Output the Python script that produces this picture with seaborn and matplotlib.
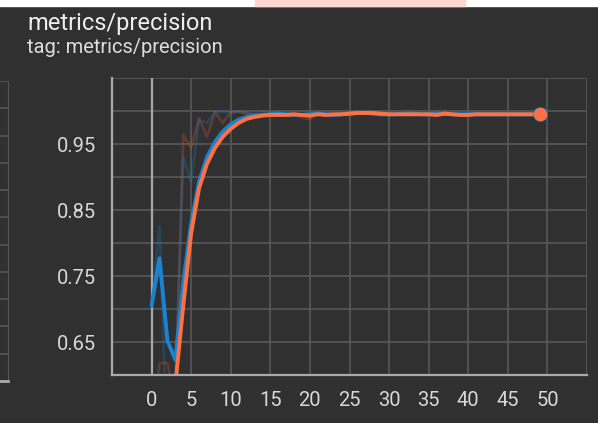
import matplotlib.pyplot as plt
from matplotlib.patches import Rectangle
import pandas as pd
import seaborn as sns

# values
steps = list(range(50))

blue_raw = [0.705, 0.825, 0.48, 0.58, 0.93, 0.892, 0.986, 0.982, 0.998, 0.999,
            0.998, 0.999, 0.997, 0.996, 0.998, 0.997, 0.998, 0.995, 0.993, 0.995,
            0.997, 0.997, 0.994, 0.993, 0.996, 0.998, 0.998, 0.997, 0.995, 0.994,
            0.995, 0.996, 0.997, 0.996, 0.994, 0.995, 0.997, 0.996, 0.995, 0.995,
            0.996, 0.995, 0.994, 0.995, 0.996, 0.995, 0.995, 0.994, 0.995, 0.996]
blue_smooth = [0.705, 0.777, 0.652, 0.623, 0.740, 0.830, 0.893, 0.930, 0.953, 0.969,
               0.980, 0.987, 0.991, 0.993, 0.994, 0.995, 0.996, 0.995, 0.994, 0.994,
               0.995, 0.996, 0.995, 0.994, 0.995, 0.996, 0.997, 0.997, 0.996, 0.995,
               0.995, 0.995, 0.996, 0.996, 0.995, 0.995, 0.996, 0.996, 0.995, 0.995,
               0.995, 0.995, 0.995, 0.995, 0.995, 0.995, 0.995, 0.995, 0.995, 0.995]
orange_raw = [0.50, 0.618, 0.618, 0.56, 0.964, 0.944, 0.989, 0.961, 0.998, 0.982,
              0.998, 0.999, 0.996, 0.995, 0.994, 0.996, 0.994, 0.995, 0.996, 0.990,
              0.988, 0.997, 0.994, 0.996, 0.996, 0.997, 0.998, 0.998, 0.997, 0.995,
              0.994, 0.996, 0.995, 0.994, 0.996, 0.995, 0.992, 0.998, 0.995, 0.993,
              0.994, 0.996, 0.995, 0.995, 0.996, 0.995, 0.994, 0.995, 0.996, 0.995]
orange_smooth = [0.52, 0.55, 0.57, 0.585, 0.705, 0.815, 0.883, 0.920, 0.944, 0.961,
                 0.973, 0.982, 0.988, 0.991, 0.993, 0.994, 0.994, 0.994, 0.995, 0.994,
                 0.993, 0.995, 0.994, 0.995, 0.995, 0.996, 0.997, 0.997, 0.997, 0.996,
                 0.995, 0.995, 0.995, 0.995, 0.995, 0.995, 0.994, 0.996, 0.995, 0.994,
                 0.994, 0.995, 0.995, 0.995, 0.995, 0.995, 0.995, 0.995, 0.995, 0.995]

x_ticks = list(range(-5, 60, 5))
x_labels = [''] + [str(t) for t in range(0, 55, 5)] + ['']
y_ticks = [0.6, 0.65, 0.7, 0.75, 0.8, 0.85, 0.9, 0.95, 1.0, 1.05]
y_labels = ['', '0.65', '', '0.75', '', '0.85', '', '0.95', '', '']

df = pd.DataFrame({'step': steps, 'blue_raw': blue_raw, 'blue_smooth': blue_smooth,
                   'orange_raw': orange_raw, 'orange_smooth': orange_smooth})

bg = '#303030'
blue = '#1a83cf'
orange = '#ff7043'
grid = '#555555'
axis_c = '#aaaaaa'
txt = '#d8d8d8'

sns.set_style('dark')
plt.rcParams['font.family'] = ['Roboto', 'DejaVu Sans']

fig = plt.figure(figsize=(5.98, 4.23), dpi=100, facecolor=bg)

# strip of the page above the card
fig.add_artist(Rectangle((0, 1 - 6 / 423), 1, 6 / 423, transform=fig.transFigure,
                         color='white', zorder=0))
fig.add_artist(Rectangle((255 / 598, 1 - 6 / 423), 210 / 598, 6 / 423,
                         transform=fig.transFigure, color='#ffd6d0', zorder=0))

fig.text(27 / 598, 1 - 30 / 423, 'metrics/precision', color='#eeeeee',
         fontsize=17, va='baseline')
fig.text(27 / 598, 1 - 53 / 423, 'tag: metrics/precision', color='#dddddd',
         fontsize=14.5, va='baseline')

# edge of the neighbouring chart card on the left
ax0 = fig.add_axes([-92 / 598, 42 / 423, 100 / 598, 300 / 423])
ax0.set_facecolor(bg)
ax0.set_xlim(0, 1)
ax0.set_ylim(0, 11)
ax0.set_yticks(range(12))
ax0.set_xticks([])
ax0.tick_params(length=0, labelleft=False)
ax0.grid(axis='y', color=grid, lw=1.2)
for s in ['top', 'left']:
    ax0.spines[s].set_visible(False)
ax0.spines['right'].set_color(grid)
ax0.spines['bottom'].set_color(axis_c)
ax0.spines['bottom'].set_linewidth(2)

ax = fig.add_axes([112 / 598, 48 / 423, 475 / 598, 297 / 423])
ax.set_facecolor(bg)

sns.lineplot(data=df, x='step', y='orange_raw', ax=ax, color='#c2553a', lw=2, alpha=0.3)
sns.lineplot(data=df, x='step', y='blue_raw', ax=ax, color=blue, lw=2, alpha=0.25)
sns.lineplot(data=df, x='step', y='blue_smooth', ax=ax, color=blue, lw=2.8)
sns.lineplot(data=df, x='step', y='orange_smooth', ax=ax, color=orange, lw=2.8)
sns.scatterplot(x=df['step'].iloc[-1:], y=df['blue_smooth'].iloc[-1:], ax=ax,
                color=blue, s=110, linewidth=0, zorder=5)
sns.scatterplot(x=df['step'].iloc[-1:], y=df['orange_smooth'].iloc[-1:], ax=ax,
                color=orange, s=90, linewidth=0, zorder=6)

ax.set_xlim(-5, 55)
ax.set_ylim(0.6, 1.05)
ax.set_xticks(x_ticks)
ax.set_xticklabels(x_labels)
ax.set_yticks(y_ticks)
ax.set_yticklabels(y_labels)
ax.set_xlabel('')
ax.set_ylabel('')
ax.grid(True, color=grid, lw=1.3)
ax.axvline(0, color='#a8a8a8', lw=1.6, zorder=1)
ax.tick_params(colors=axis_c, labelcolor=txt, labelsize=14.5, length=6.5, width=1.5,
               direction='out', pad=5)
for s in ['top', 'right']:
    ax.spines[s].set_visible(False)
for s in ['left', 'bottom']:
    ax.spines[s].set_color(axis_c)
    ax.spines[s].set_linewidth(1.6)

plt.savefig('out.png', dpi=100, facecolor=bg)
